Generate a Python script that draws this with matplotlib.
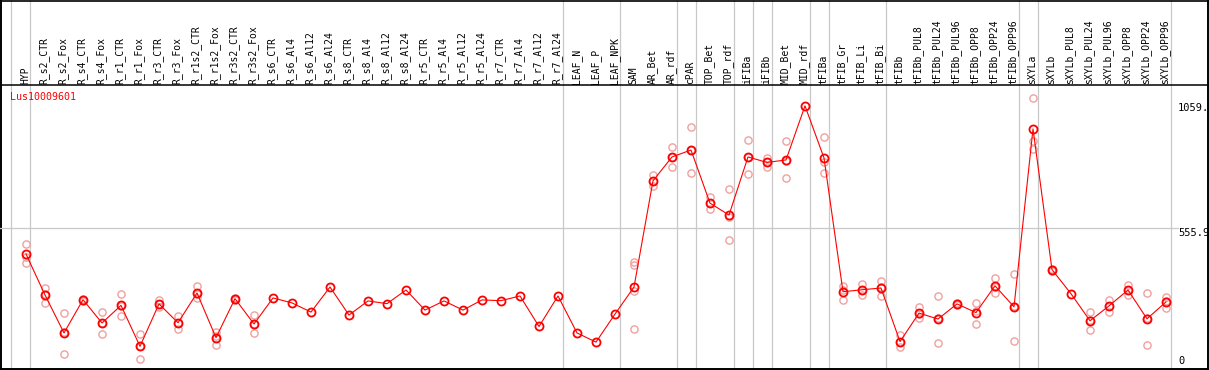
import numpy as np
import matplotlib
matplotlib.use("Agg")
import matplotlib.pyplot as plt

W, H = 1209, 370

labels = ["HYP",
          "R_s2_CTR", "R_s2_Fox", "R_s4_CTR", "R_s4_Fox", "R_r1_CTR", "R_r1_Fox",
          "R_r3_CTR", "R_r3_Fox", "R_r1s2_CTR", "R_r1s2_Fox", "R_r3s2_CTR", "R_r3s2_Fox",
          "R_s6_CTR", "R_s6_Al4", "R_s6_Al12", "R_s6_Al24",
          "R_s8_CTR", "R_s8_Al4", "R_s8_Al12", "R_s8_Al24",
          "R_r5_CTR", "R_r5_Al4", "R_r5_Al12", "R_r5_Al24",
          "R_r7_CTR", "R_r7_Al4", "R_r7_Al12", "R_r7_Al24",
          "LEAF_N", "LEAF_P", "LEAF_NPK",
          "SAM", "AR_Bet", "AR_rdf", "cPAR", "TOP_Bet", "TOP_rdf",
          "iFIBa", "iFIBb", "MID_Bet", "MID_rdf",
          "tFIBa", "tFIB_Gr", "tFIB_Li", "tFIB_Bi",
          "tFIBb", "tFIBb_PUL8", "tFIBb_PUL24", "tFIBb_PUL96",
          "tFIBb_OPP8", "tFIBb_OPP24", "tFIBb_OPP96",
          "sXYLa", "sXYLb", "sXYLb_PUL8", "sXYLb_PUL24", "sXYLb_PUL96",
          "sXYLb_OPP8", "sXYLb_OPP24", "sXYLb_OPP96"]

# sizes of the sample groups (separated by grey lines)
group_sizes = [1, 28, 3, 3, 1, 2, 1, 1, 2, 1, 3, 7, 1, 7]

means = [450, 285, 132, 266, 172, 243, 78, 249, 173, 293, 113, 270, 168,
         273, 253, 216, 317, 204, 261, 250, 305, 224, 261, 224, 265,
         262, 281, 158, 281, 132, 95, 208,
         317, 745, 841, 869, 655, 607, 841, 819, 829, 1047,
         837, 298, 306, 313, 97, 212, 188, 249, 214, 322, 237,
         954, 387, 290, 181, 241, 305, 189, 257]

reps = [[491, 439, 415], [314, 288, 253], [214, 135, 47], [262, 266, 270],
        [216, 172, 128], [290, 239, 200], [128, 79, 27], [263, 247, 237],
        [200, 173, 146], [320, 288, 271], [137, 119, 83], [266, 270, 274],
        [204, 170, 130],
        [], [], [], [], [], [], [], [], [], [], [], [], [], [], [], [], [], [], [],
        [418, 404, 302, 148], [767, 745, 722], [882, 841, 799], [963, 868, 776],
        [681, 654, 631], [713, 601, 508], [909, 842, 772], [835, 821, 801],
        [905, 825, 756], [],
        [923, 819, 776], [322, 307, 265], [329, 305, 285], [342, 316, 281],
        [122, 95, 74], [237, 209, 191], [281, 192, 91], [245, 249, 253],
        [253, 220, 168], [355, 319, 293], [371, 240, 100],
        [1079, 907, 873], [383, 387, 391], [], [215, 186, 142], [266, 239, 218],
        [324, 305, 286], [293, 191, 83], [275, 262, 234]]

gene = "Lus10009601"
ytick_vals = [1059, 555.9, 0]
ytick_text = ["1059.", "555.9", "0"]

x = np.arange(len(labels))
x0, dx = 26, 19           # pixel of first sample, pixel step
xlim = (-x0 / dx, (W - x0) / dx)
y_zero, px_per = 365.7, 0.2482
mono = "DejaVu Sans Mono"

fig = plt.figure(figsize=(W / 100, H / 100), dpi=100)

# frame axes in pixel coordinates for the decoration
fr = fig.add_axes([0, 0, 1, 1])
fr.set_xlim(xlim)
fr.set_ylim(H, 0)
fr.axis("off")

bounds = np.concatenate([[-1], np.cumsum(group_sizes) - 1])
for b in bounds:
    fr.axvline(b + 4.5 / dx, color="#c8c8c8", lw=0.9, zorder=1)

fr.axhline(85, color="black", lw=1.1, zorder=3)
fr.plot([xlim[0], xlim[1]], [0.5, 0.5], color="black", lw=1.2, zorder=3)
fr.plot([xlim[0], xlim[1]], [368.6, 368.6], color="black", lw=1.4, zorder=3)
fr.plot([xlim[0] + 1.3 / dx] * 2, [0, H], color="black", lw=1.4, zorder=3)
fr.plot([xlim[0] + 1207.8 / dx] * 2, [0, H], color="black", lw=1.4, zorder=3)

for i, lab in enumerate(labels):
    fr.text(i - 0.05, 83.5, lab, rotation=90, ha="center", va="bottom",
            fontsize=7, family=mono, color="black")

# data axes
ax = fig.add_axes([0, 0, 1, (H - 86) / H])
ax.patch.set_alpha(0)
ax.set_xlim(xlim)
ax.set_ylim(-(H - y_zero) / px_per, (y_zero - 86) / px_per)
ax.axis("off")

ax.plot([xlim[0], xlim[0] + 1178 / dx], [555.9, 555.9], color="#c8c8c8", lw=0.9, zorder=1)

for i, r in enumerate(reps):
    if r:
        ax.plot([i] * len(r), r, "o", ms=5.2, mfc="none", mec="#f0a0a0", mew=1.0, zorder=2)

ax.plot(x, means, color="#ff0000", lw=0.8, zorder=3)
ax.plot(x, means, "o", ms=5.8, mfc="none", mec="#ff0000", mew=1.3, zorder=4)

tr = ax.get_yaxis_transform()
for v, t in zip(ytick_vals, ytick_text):
    ax.text(1178 / W, v, t, transform=tr, ha="left",
            va="bottom" if v == 0 else "top", fontsize=7.5, family=mono)

ax.text(10 / W, (y_zero - 92) / px_per, gene, transform=tr, ha="left", va="top",
        fontsize=7.2, family=mono, color="#ff0000")

fig.savefig("out.png", dpi=100)
